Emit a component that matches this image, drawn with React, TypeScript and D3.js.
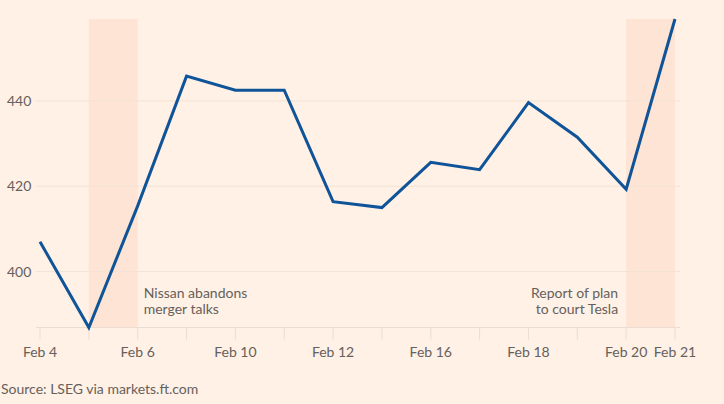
import React from "react";
import * as d3 from "d3";

const categories = ["Feb 4","Feb 5","Feb 6","Feb 7","Feb 10","Feb 11","Feb 12","Feb 13","Feb 16","Feb 17","Feb 18","Feb 19","Feb 20","Feb 21"];
const prices = [407, 386.9, 415.4, 445.8, 442.5, 442.5, 416.4, 415.0, 425.6, 423.9, 439.6, 431.5, 419.3, 459.2];
const tickLabels = ["Feb 4","Feb 6","Feb 10","Feb 12","Feb 16","Feb 18","Feb 20","Feb 21"];
const yTicks = [400, 420, 440];
const bands = [["Feb 5","Feb 6"],["Feb 20","Feb 21"]];
const annotations = [
  { at: "Feb 6", lines: ["Nissan abandons", "merger talks"], anchor: "start" },
  { at: "Feb 20", lines: ["Report of plan", "to court Tesla"], anchor: "end" },
];

const W = 724, H = 404;
const left = 40, right = 675, top = 19, bottom = 327.5;
const FONT = "Lato, 'Open Sans', sans-serif";
const TEXT = "#66605c";
const FS = 14;

export default function App() {
  const x = d3.scalePoint<string>().domain(categories).range([left, right]);
  const ext = d3.extent(prices) as [number, number];
  const y = d3.scaleLinear().domain(ext).range([bottom, top]);
  const line = d3.line<number>().x((_, i) => x(categories[i])!).y(d => y(d));
  return (
    <svg width={W} height={H} style={{ position: "absolute", left: 0, top: 0, background: "#FFF1E5" }} fontFamily={FONT}>
      <rect width={W} height={H} fill="#FFF1E5" />
      {bands.map(([a, b], i) => (
        <rect key={i} x={x(a)} y={top} width={x(b)! - x(a)!} height={bottom - top} fill="#FDE4D4" />
      ))}
      {yTicks.map(t => (
        <g key={t}>
          <line x1={36} x2={680} y1={y(t)} y2={y(t)} stroke="#F3E2D6" strokeWidth={1} />
          <text x={7} y={y(t)} dy="0.36em" fontSize={FS} fill={TEXT}>{t}</text>
        </g>
      ))}
      <line x1={36} x2={680} y1={bottom} y2={bottom} stroke="#EBDDD2" strokeWidth={1} />
      {categories.map(c => (
        <line key={c} x1={x(c)} x2={x(c)} y1={bottom} y2={bottom + 12} stroke="#EBDDD2" strokeWidth={1} />
      ))}
      {tickLabels.map(c => (
        <text key={c} x={x(c)} y={357} textAnchor="middle" fontSize={FS} fill={TEXT}>{c}</text>
      ))}
      {annotations.map((a, i) => (
        <text key={i} x={x(a.at)! + (a.anchor === "start" ? 6 : -8)} y={298} textAnchor={a.anchor as any} fontSize={FS} fill={TEXT}>
          {a.lines.map((l, j) => (
            <tspan key={j} x={x(a.at)! + (a.anchor === "start" ? 6 : -8)} dy={j === 0 ? 0 : 16}>{l}</tspan>
          ))}
        </text>
      ))}
      <path d={line(prices)!} fill="none" stroke="#0F5499" strokeWidth={3} strokeLinejoin="miter" />
      <text x={1} y={394} fontSize={FS} fill={TEXT}>Source: LSEG via markets.ft.com</text>
    </svg>
  );
}
